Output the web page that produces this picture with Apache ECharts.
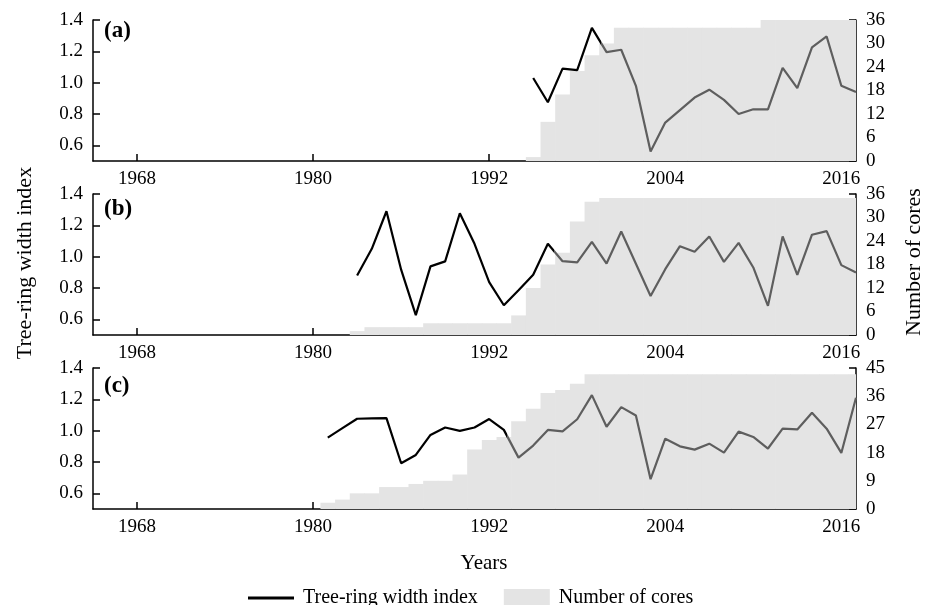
<!DOCTYPE html>
<html>
<head>
<meta charset="utf-8">
<script src="https://cdn.jsdelivr.net/npm/echarts@6/dist/echarts.min.js"></script>
<style>html,body{margin:0;padding:0;background:#fff}#c{width:931px;height:605px}</style>
</head>
<body>
<div id="c"></div>
<script>
// ---------- data ----------
const xTicks = [1968, 1980, 1992, 2004, 2016];
const leftTicks = [0.6, 0.8, 1.0, 1.2, 1.4];

const yearsA = [1995,1996,1997,1998,1999,2000,2001,2002,2003,2004,2005,2006,2007,2008,2009,2010,2011,2012,2013,2014,2015,2016,2017];
const indexA = [1.03,0.875,1.09,1.08,1.35,1.195,1.21,0.98,0.56,0.745,0.825,0.905,0.955,0.89,0.8,0.83,0.83,1.095,0.965,1.225,1.295,0.98,0.94];
const coresA = [1,10,17,23,27,30,34,34,34,34,34,34,34,34,34,34,36,36,36,36,36,36,36];

const yearsB = [1983,1984,1985,1986,1987,1988,1989,1990,1991,1992,1993,1994,1995,1996,1997,1998,1999,2000,2001,2002,2003,2004,2005,2006,2007,2008,2009,2010,2011,2012,2013,2014,2015,2016,2017];
const indexB = [0.88,1.05,1.29,0.917,0.627,0.938,0.97,1.277,1.082,0.838,0.69,0.786,0.885,1.082,0.971,0.963,1.095,0.956,1.161,0.955,0.749,0.92,1.067,1.031,1.129,0.967,1.088,0.931,0.686,1.129,0.884,1.14,1.163,0.946,0.899];
const coresB = [1,2,2,2,2,3,3,3,3,3,3,5,12,18,21,29,34,35,35,35,35,35,35,35,35,35,35,35,35,35,35,35,35,35,35];

const yearsC = [1981,1982,1983,1984,1985,1986,1987,1988,1989,1990,1991,1992,1993,1994,1995,1996,1997,1998,1999,2000,2001,2002,2003,2004,2005,2006,2007,2008,2009,2010,2011,2012,2013,2014,2015,2016,2017];
const indexC = [0.956,1.016,1.076,1.078,1.08,0.792,0.845,0.973,1.02,0.999,1.02,1.074,1.005,0.828,0.905,1.005,0.996,1.073,1.227,1.025,1.15,1.097,0.69,0.949,0.9,0.879,0.917,0.86,0.994,0.96,0.886,1.013,1.008,1.114,1.013,0.858,1.21];
const coresC = [2,3,5,5,7,7,8,9,9,11,19,22,23,28,32,37,38,40,43,43,43,43,43,43,43,43,43,43,43,43,43,43,43,43,43,43,43];

// year where the chronology switches from black (few cores) to grey
const switchYear = [1999.6, 1996.4, 1993.2];
const coresMax = [36, 36, 45];
const coresStep = [6, 6, 9];
const panelLabels = ['(a)', '(b)', '(c)'];

// ---------- style ----------
const FONT = 'Liberation Serif';
const BLACK = '#000';
const GREY = '#5e5e5e';
const FILL = '#e4e4e4';
const gridTops = [20, 194, 368];
const gridH = 141;
const labelY = [31, 209, 386];
const X_MIN = 1965, X_MAX = 2017;

const panels = [
  {years: yearsA, index: indexA, cores: coresA},
  {years: yearsB, index: indexB, cores: coresB},
  {years: yearsC, index: indexC, cores: coresC}
];

const axisLine = {show: true, lineStyle: {color: BLACK, width: 1.5}};
const tickStyle = {show: true, inside: true, length: 7, lineStyle: {color: BLACK, width: 1.5}};
const labelStyle = {color: BLACK, fontFamily: FONT, fontSize: 19};

const grid = [], xAxis = [], yAxis = [], series = [], visualMap = [];

panels.forEach((p, i) => {
  grid.push({left: 93, right: 75, top: gridTops[i], height: gridH, containLabel: false, outerBoundsMode: 'none'});
  xAxis.push({
    type: 'value', gridIndex: i, min: X_MIN, max: X_MAX,
    axisLine: axisLine, splitLine: {show: false},
    axisTick: Object.assign({}, tickStyle, {customValues: xTicks}),
    axisLabel: Object.assign({}, labelStyle, {customValues: xTicks, margin: 9, formatter: v => String(v)})
  });
  yAxis.push({
    type: 'value', gridIndex: i, min: 0.5, max: 1.4, position: 'left',
    axisLine: axisLine, splitLine: {show: false},
    axisTick: Object.assign({}, tickStyle, {customValues: leftTicks}),
    axisLabel: Object.assign({}, labelStyle, {customValues: leftTicks, margin: 10, formatter: v => v.toFixed(1)})
  });
  yAxis.push({
    type: 'value', gridIndex: i, min: 0, max: coresMax[i], interval: coresStep[i], position: 'right',
    axisLine: axisLine, splitLine: {show: false},
    axisTick: tickStyle,
    axisLabel: Object.assign({}, labelStyle, {margin: 10})
  });
  series.push({
    name: 'Number of cores', type: 'custom', xAxisIndex: i, yAxisIndex: 2 * i + 1, z: 1,
    data: p.years.map((y, k) => [y, p.cores[k]]),
    itemStyle: {color: FILL},
    renderItem: function (params, api) {
      const yr = api.value(0), n = api.value(1);
      const cs = params.coordSys;
      const tl = api.coord([yr - 0.5, n]);
      const br = api.coord([yr + 0.5, 0]);
      const x0 = Math.max(tl[0], cs.x);
      const x1 = Math.min(br[0] + 0.6, cs.x + cs.width);
      return {type: 'rect', shape: {x: x0, y: tl[1], width: x1 - x0, height: br[1] - tl[1]}, style: {fill: FILL}};
    }
  });
  series.push({
    name: 'Tree-ring width index', type: 'line', xAxisIndex: i, yAxisIndex: 2 * i, z: 3,
    symbol: 'none', showSymbol: false,
    lineStyle: {width: 2.2},
    data: p.years.map((y, k) => [y, p.index[k]])
  });
  visualMap.push({
    type: 'piecewise', show: false, dimension: 0, seriesIndex: 2 * i + 1,
    pieces: [{gte: X_MIN, lt: switchYear[i], color: BLACK}, {gte: switchYear[i], lte: X_MAX, color: GREY}],
    outOfRange: {color: GREY}
  });
});

const graphic = [
  {type: 'text', x: 25, y: 263, rotation: Math.PI / 2,
   style: {text: 'Tree-ring width index', font: '22px "Liberation Serif"', fill: BLACK, align: 'center', verticalAlign: 'middle'}},
  {type: 'text', x: 914, y: 262, rotation: Math.PI / 2,
   style: {text: 'Number of cores', font: '22px "Liberation Serif"', fill: BLACK, align: 'center', verticalAlign: 'middle'}},
  {type: 'text', x: 484, y: 563,
   style: {text: 'Years', font: '21px "Liberation Serif"', fill: BLACK, align: 'center', verticalAlign: 'middle'}}
];
panelLabels.forEach((t, i) => {
  graphic.push({type: 'text', x: 104, y: labelY[i],
    style: {text: t, font: 'bold 23px "Liberation Serif"', fill: BLACK, align: 'left', verticalAlign: 'middle'}});
});

const chart = echarts.init(document.getElementById('c'), null, {renderer: 'canvas'});
chart.setOption({
  animation: false,
  backgroundColor: '#fff',
  grid, xAxis, yAxis, series, visualMap, graphic,
  legend: {
    left: 243, top: 583, itemWidth: 46, itemHeight: 18, itemGap: 26,
    textStyle: {color: BLACK, fontFamily: FONT, fontSize: 20, padding: [0, 0, 0, 4]},
    data: [
      {name: 'Tree-ring width index', icon: 'path://M0,0 L46,0 L46,3 L0,3 Z', itemStyle: {color: BLACK}, lineStyle: {color: BLACK, width: 3}},
      {name: 'Number of cores', icon: 'rect', itemStyle: {color: FILL}}
    ]
  }
});
</script>
</body>
</html>
